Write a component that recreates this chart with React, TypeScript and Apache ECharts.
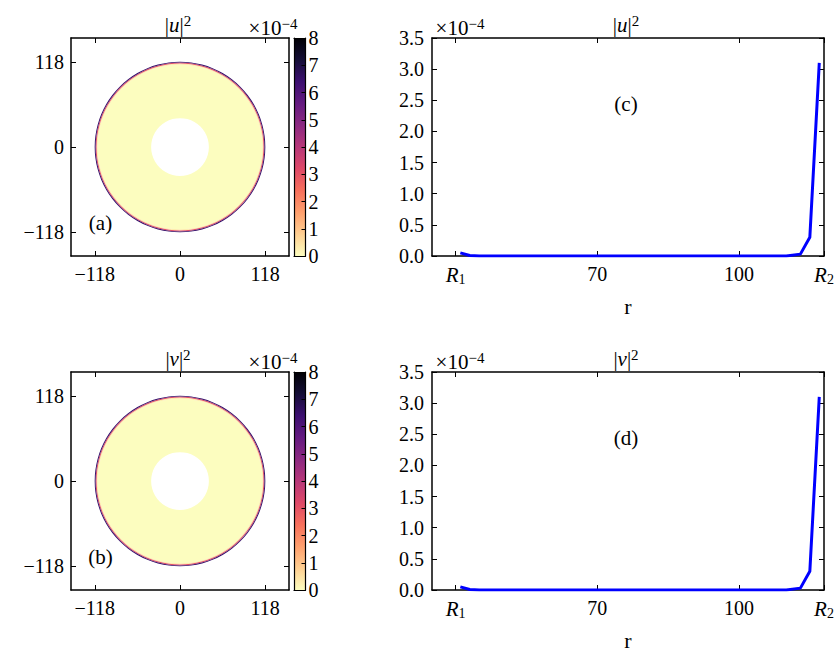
import React, { useEffect, useRef } from 'react';
import * as echarts from 'echarts';

// values are in units of 1e-4
const R1 = 40;
const R2 = 118;
const rValues = [41, 43, 45, 50, 60, 70, 80, 90, 100, 110, 113, 115, 117];
const u2Values = [0.05, 0.008, 0.0, 0, 0, 0, 0, 0, 0, 0, 0.03, 0.3, 3.1];
const v2Values = [0.05, 0.008, 0.0, 0, 0, 0, 0, 0, 0, 0, 0.03, 0.3, 3.1];
// radial bands used for the 2D maps (band edges in r, value per band)
const mapBandEdges = [40, 114, 115.6, 116.9, 118.2];
const mapU2 = [0.0, 0.3, 3.1, 6.5];
const mapV2 = [0.0, 0.3, 3.1, 6.5];
const mapTicks = [-118, 0, 118];
const profileTicks = [R1, 70, 100, R2];
const colorbarRange = [0, 8];

const MAGMA_R = ['#fcfdbf', '#fecf92', '#fe9f6d', '#f7705c', '#de4968', '#b73779', '#8c2981', '#641a80', '#3b0f70', '#140e36', '#000004'];

const FONT = 'Liberation Serif';
const baseFont = { fontFamily: FONT, fontSize: 20, color: '#000' };
const boxLine = { color: '#000', width: 1.5 };
const tickLine = { color: '#000', width: 1 };

const fmtSigned = (v: number) => (v < 0 ? '\u2212' + Math.abs(v) : String(v));
const fmtR = (v: number) => (v === R1 ? '{i|R}{sub|1}' : v === R2 ? '{i|R}{sub|2}' : String(v));

const richR = {
  i: { fontFamily: FONT, fontSize: 21, fontStyle: 'italic', color: '#000', lineHeight: 22 },
  sub: { fontFamily: FONT, fontSize: 14, color: '#000', lineHeight: 10, verticalAlign: 'bottom' },
};
const richT = {
  n: { fontFamily: FONT, fontSize: 21, color: '#000', lineHeight: 24 },
  i: { fontFamily: FONT, fontSize: 21, fontStyle: 'italic', color: '#000', lineHeight: 24 },
  s: { fontFamily: FONT, fontSize: 15, color: '#000', lineHeight: 10, verticalAlign: 'top' },
};

function bands(edges: number[], vals: number[]) {
  return vals.map((v, i) => [edges[i], edges[i + 1], v]);
}

function mapAxes(g: number) {
  const common = { gridIndex: g, type: 'value', min: -151, max: 151, z: 3, splitLine: { show: false } };
  const x = [
    { ...common, position: 'bottom', axisLine: { show: true, onZero: false, lineStyle: boxLine },
      axisTick: { show: true, inside: true, length: 5, customValues: mapTicks, lineStyle: tickLine },
      axisLabel: { show: true, customValues: mapTicks, formatter: fmtSigned, margin: 8, ...baseFont } },
    { ...common, position: 'top', axisLine: { show: true, onZero: false, lineStyle: boxLine },
      axisTick: { show: true, inside: true, length: 5, customValues: mapTicks, lineStyle: tickLine },
      axisLabel: { show: false } },
  ];
  const y = [
    { ...common, position: 'left', axisLine: { show: true, onZero: false, lineStyle: boxLine },
      axisTick: { show: true, inside: true, length: 5, customValues: mapTicks, lineStyle: tickLine },
      axisLabel: { show: true, customValues: mapTicks, formatter: fmtSigned, margin: 7, ...baseFont } },
    { ...common, position: 'right', axisLine: { show: true, onZero: false, lineStyle: boxLine },
      axisTick: { show: true, inside: true, length: 5, customValues: mapTicks, lineStyle: tickLine },
      axisLabel: { show: false } },
  ];
  return { x, y };
}

function profileAxes(g: number) {
  const cx = { gridIndex: g, type: 'value', min: 35, max: R2, z: 3, splitLine: { show: false } };
  const cy = { gridIndex: g, type: 'value', min: 0, max: 3.5, interval: 0.5, z: 3, splitLine: { show: false } };
  const x = [
    { ...cx, position: 'bottom', name: 'r', nameLocation: 'middle', nameGap: 39, nameTextStyle: { ...baseFont, fontSize: 22 },
      axisLine: { show: true, onZero: false, lineStyle: boxLine },
      axisTick: { show: true, inside: true, length: 5, customValues: profileTicks, lineStyle: tickLine },
      axisLabel: { show: true, customValues: profileTicks, formatter: fmtR, margin: 8, ...baseFont, rich: richR } },
    { ...cx, position: 'top', axisLine: { show: true, onZero: false, lineStyle: boxLine },
      axisTick: { show: true, inside: true, length: 5, customValues: profileTicks, lineStyle: tickLine },
      axisLabel: { show: false } },
  ];
  const y = [
    { ...cy, position: 'left', axisLine: { show: true, onZero: false, lineStyle: boxLine },
      axisTick: { show: true, inside: true, length: 5, lineStyle: tickLine },
      axisLabel: { show: true, formatter: (v: number) => v.toFixed(1), margin: 8, ...baseFont } },
    { ...cy, position: 'right', axisLine: { show: true, onZero: false, lineStyle: boxLine },
      axisTick: { show: true, inside: true, length: 5, lineStyle: tickLine },
      axisLabel: { show: false } },
  ];
  return { x, y };
}

function colorbarAxes(g: number) {
  const cx = { gridIndex: g, type: 'value', min: 0, max: 1, z: 3, splitLine: { show: false },
    axisLine: { show: true, onZero: false, lineStyle: { color: '#000', width: 1.2 } }, axisTick: { show: false }, axisLabel: { show: false } };
  const cy = { gridIndex: g, type: 'value', min: colorbarRange[0], max: colorbarRange[1], interval: 1, z: 3, splitLine: { show: false } };
  const x = [{ ...cx, position: 'bottom' }, { ...cx, position: 'top' }];
  const y = [
    { ...cy, position: 'left', axisLine: { show: true, onZero: false, lineStyle: { color: '#000', width: 1.2 } }, axisTick: { show: false }, axisLabel: { show: false } },
    { ...cy, position: 'right', axisLine: { show: true, onZero: false, lineStyle: { color: '#000', width: 1.2 } },
      axisTick: { show: true, inside: true, length: 4, lineStyle: tickLine },
      axisLabel: { show: true, margin: 3, ...baseFont } },
  ];
  return { x, y };
}

const annulusRender = (params: any, api: any) => {
  const c = api.coord([0, 0]);
  const rIn = api.size([api.value(0), 0])[0];
  const rOut = api.size([api.value(1), 0])[0];
  return { type: 'ring', shape: { cx: c[0], cy: c[1], r: rOut, r0: rIn }, style: { fill: api.visual('color') } };
};

const colorbarRender = (params: any, api: any) => {
  const p0 = api.coord([0, api.value(0)]);
  const p1 = api.coord([1, api.value(1)]);
  return {
    type: 'rect',
    shape: { x: p0[0], y: p1[1], width: p1[0] - p0[0], height: p0[1] - p1[1] },
    style: { fill: new echarts.graphic.LinearGradient(0, 1, 0, 0, MAGMA_R.map((c, i) => ({ offset: i / (MAGMA_R.length - 1), color: c }))) },
  };
};

function textEl(x: number, y: number, text: string, align = 'center') {
  return { type: 'text', x, y, z: 10, style: { text, align, verticalAlign: 'middle', rich: richT, fontFamily: FONT, fontSize: 20, fill: '#000' } };
}

export default function App() {
  const ref = useRef<HTMLDivElement>(null);
  useEffect(() => {
    if (!ref.current) return;
    const chart = echarts.init(ref.current, undefined, { renderer: 'svg' });
    const a = mapAxes(0), b = mapAxes(1), c = profileAxes(2), d = profileAxes(3), cb1 = colorbarAxes(4), cb2 = colorbarAxes(5);
    const profU = rValues.map((r, i) => [r, u2Values[i]]);
    const profV = rValues.map((r, i) => [r, v2Values[i]]);
    chart.setOption({
      animation: false,
      textStyle: { fontFamily: FONT },
      grid: [
        { left: 71, top: 38, width: 218, height: 218 },
        { left: 71, top: 372, width: 218, height: 218 },
        { left: 432, top: 38, width: 392, height: 218 },
        { left: 432, top: 372, width: 392, height: 218 },
        { left: 294, top: 38, width: 11.5, height: 218 },
        { left: 294, top: 372, width: 11.5, height: 218 },
      ],
      xAxis: [...a.x, ...b.x, ...c.x, ...d.x, ...cb1.x, ...cb2.x],
      yAxis: [...a.y, ...b.y, ...c.y, ...d.y, ...cb1.y, ...cb2.y],
      visualMap: { type: 'continuous', show: false, min: colorbarRange[0], max: colorbarRange[1], dimension: 2, seriesIndex: [0, 1], inRange: { color: MAGMA_R } },
      series: [
        { type: 'custom', name: '|u|^2 map', xAxisIndex: 0, yAxisIndex: 0, renderItem: annulusRender, data: bands(mapBandEdges, mapU2), z: 2 },
        { type: 'custom', name: '|v|^2 map', xAxisIndex: 2, yAxisIndex: 2, renderItem: annulusRender, data: bands(mapBandEdges, mapV2), z: 2 },
        { type: 'line', name: '|u|^2', xAxisIndex: 4, yAxisIndex: 4, data: profU, showSymbol: false, lineStyle: { color: '#0000ff', width: 3 }, itemStyle: { color: '#0000ff' }, z: 5 },
        { type: 'line', name: '|v|^2', xAxisIndex: 6, yAxisIndex: 6, data: profV, showSymbol: false, lineStyle: { color: '#0000ff', width: 3 }, itemStyle: { color: '#0000ff' }, z: 5 },
        { type: 'custom', xAxisIndex: 8, yAxisIndex: 8, renderItem: colorbarRender, data: [colorbarRange], z: 1 },
        { type: 'custom', xAxisIndex: 10, yAxisIndex: 10, renderItem: colorbarRender, data: [colorbarRange], z: 1 },
      ],
      graphic: [
        textEl(178, 25, '{n||}{i|u}{n||}{s|2}'),
        textEl(178, 359, '{n||}{i|v}{n||}{s|2}'),
        textEl(626, 25, '{n||}{i|u}{n||}{s|2}'),
        textEl(626, 359, '{n||}{i|v}{n||}{s|2}'),
        textEl(273, 28, '{n|\u00d710}{s|\u22124}'),
        textEl(273, 362, '{n|\u00d710}{s|\u22124}'),
        textEl(460, 28, '{n|\u00d710}{s|\u22124}'),
        textEl(460, 362, '{n|\u00d710}{s|\u22124}'),
        textEl(100.5, 223, '{n|(a)}'),
        textEl(100.5, 557, '{n|(b)}'),
        textEl(626, 104, '{n|(c)}'),
        textEl(626, 438, '{n|(d)}'),
      ],
    });
    return () => chart.dispose();
  }, []);
  return <div ref={ref} style={{ position: 'absolute', left: 0, top: 0, width: 837, height: 652 }} />;
}
